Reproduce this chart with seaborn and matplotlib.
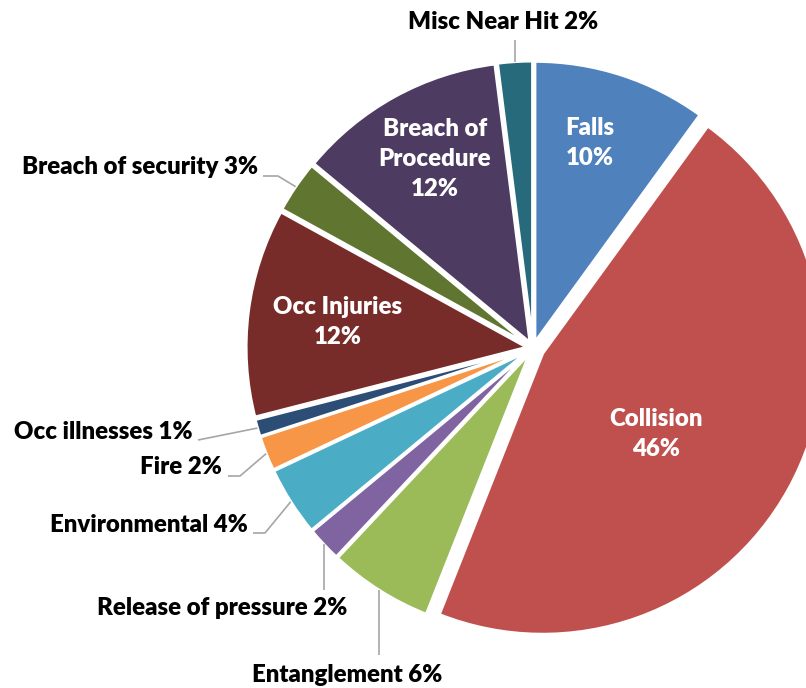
import matplotlib
matplotlib.use("Agg")
import matplotlib.pyplot as plt
import seaborn as sns
import numpy as np

sns.set_theme(style="white")
plt.rcParams["font.family"] = ["Lato", "DejaVu Sans"]

categories = ["Falls", "Collision", "Entanglement", "Release of pressure", "Environmental",
              "Fire", "Occ illnesses", "Occ Injuries", "Breach of security",
              "Breach of Procedure", "Misc Near Hit"]
values = [10, 46, 6, 2, 4, 2, 1, 12, 3, 12, 2]
colors = ["#4F81BD", "#C0504D", "#9BBB59", "#8064A2", "#4BACC6", "#F79646",
          "#2C4D75", "#772C2A", "#5F7530", "#4D3B62", "#276A7C"]

W, H = 806, 688
fig = plt.figure(figsize=(W / 100, H / 100), dpi=100)
ax = fig.add_axes([0, 0, 1, 1])

cx, cy, R = 533, 348, 281
explode = [11 if c == "Collision" else 6 for c in categories]
wedges, _ = ax.pie(values, colors=colors, startangle=90, counterclock=False,
                   center=(cx, H - cy), radius=R, explode=explode,
                   wedgeprops=dict(edgecolor="white", linewidth=2.2))
ax.set_xlim(0, W)
ax.set_ylim(0, H)
ax.set_aspect("equal")
ax.axis("off")

fs = 17.3
fw = "heavy"
# inside labels (image pixel coords)
inside = {
    "Falls": ("Falls\n10%", 590, 143),
    "Collision": ("Collision\n46%", 656, 434),
    "Breach of Procedure": ("Breach of\nProcedure\n12%", 435, 159),
    "Occ Injuries": ("Occ Injuries\n12%", 338, 322),
}
for c, (txt, x, y) in inside.items():
    ax.text(x, H - y, txt, ha="center", va="center", color="white",
            fontsize=fs, fontweight=fw, linespacing=1.45)

# outside labels: text pos, ha, line start, optional elbow
outside = {
    "Misc Near Hit": ((503, 22), "center", (520, 40), None),
    "Breach of security": ((258, 167), "right", (263, 176), (278, 176)),
    "Occ illnesses": ((193, 432), "right", (198, 440), None),
    "Fire": ((222, 467), "right", (228, 476), (240, 476)),
    "Environmental": ((248, 525), "right", (253, 533), (265, 533)),
    "Release of pressure": ((222, 608), "center", (323, 590), None),
    "Entanglement": ((347, 675), "center", (388, 655), None),
}
for w, c, v in zip(wedges, categories, values):
    if c not in outside:
        continue
    (tx, ty), ha, start, elbow = outside[c]
    ax.text(tx, H - ty, f"{c} {v}%", ha=ha, va="center", color="black",
            fontsize=fs, fontweight=fw)
    mid = np.deg2rad((w.theta1 + w.theta2) / 2)
    ex = w.center[0] + w.r * np.cos(mid)
    ey = w.center[1] + w.r * np.sin(mid)
    pts = [(start[0], H - start[1])]
    if elbow is not None:
        pts.append((elbow[0], H - elbow[1]))
    elif ha == "center":
        pts = [(ex, H - start[1])]
    pts.append((ex, ey))
    xs, ys = zip(*pts)
    ax.plot(xs, ys, color="#A6A6A6", lw=1.2, solid_capstyle="butt")

fig.savefig("out.png", dpi=100)
